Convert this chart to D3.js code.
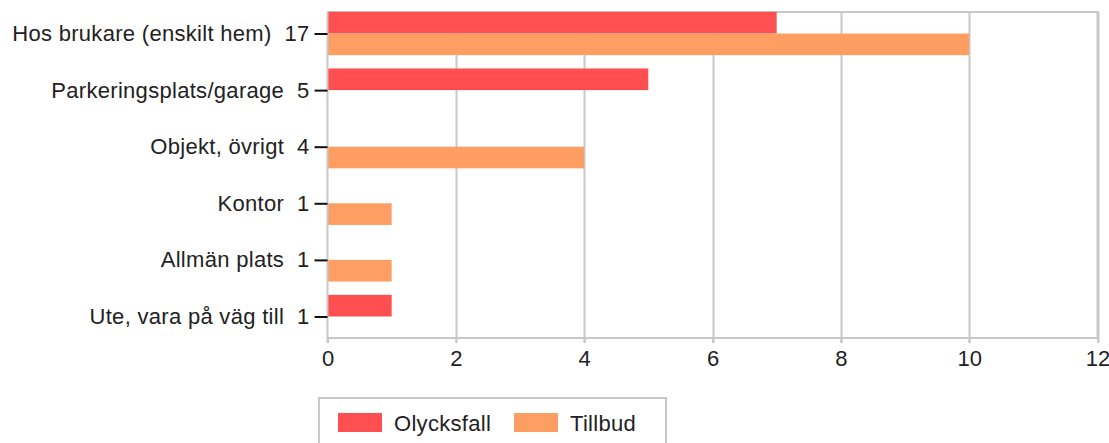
<!DOCTYPE html>
<html>
<head>
<meta charset="utf-8">
<script src="https://cdn.jsdelivr.net/npm/d3@7"></script>
<style>
    body { margin: 0; background: #fff; }
    svg { display: block; font-family: "Liberation Sans", Arial, sans-serif; }
</style>
</head>
<body>
<div id="graph"></div>
<script>
const categories = [
    "Hos brukare (enskilt hem)",
    "Parkeringsplats/garage",
    "Objekt, övrigt",
    "Kontor",
    "Allmän plats",
    "Ute, vara på väg till"
];
const seriesNames = ["Olycksfall", "Tillbud"];
const olycksfall = [7, 5, 0, 0, 0, 1];
const tillbud = [10, 0, 4, 1, 1, 0];
const xTicks = [0, 2, 4, 6, 8, 10, 12];
const colors = ["#ff4f50", "#ff9e62"];

const width = 1109;
const height = 443;
const plot = {left: 327.5, right: 1097.5, top: 12, bottom: 338};

const values = [olycksfall, tillbud];
const totals = categories.map((c, i) => d3.sum(values, v => v[i]));

const svg = d3.select("#graph")
    .append("svg")
    .attr("width", width)
    .attr("height", height);

const xScale = d3.scaleLinear()
    .domain([0, 12])
    .range([plot.left, plot.right]);

const yScale = d3.scalePoint()
    .domain(categories)
    .range([plot.top, plot.bottom])
    .padding(0.38);

const barSize = yScale.step() * 0.765;
const subScale = d3.scaleBand()
    .domain(seriesNames)
    .range([-barSize / 2, barSize / 2]);

// vertical grid + small ticks below the plot
svg.append("g")
    .selectAll("line")
    .data(xTicks.slice(1))
    .join("line")
    .attr("x1", d => Math.round(xScale(d)) + 0.5)
    .attr("x2", d => Math.round(xScale(d)) + 0.5)
    .attr("y1", plot.top)
    .attr("y2", plot.bottom + 5)
    .attr("stroke", "#c8c8c8")
    .attr("stroke-width", 2);

// frame: top, right, bottom
svg.append("path")
    .attr("d", `M${plot.left},${plot.top}H${plot.right}V${plot.bottom}H${plot.left}`)
    .attr("fill", "none")
    .attr("stroke", "#c8c8c8")
    .attr("stroke-width", 2);

// bars
const rows = svg.append("g")
    .selectAll("g")
    .data(categories)
    .join("g")
    .attr("transform", d => `translate(0, ${yScale(d)})`);

rows.selectAll("rect")
    .data((c, i) => seriesNames.map((s, k) => ({series: s, value: values[k][i], color: colors[k]})))
    .join("rect")
    .attr("x", xScale(0))
    .attr("y", d => subScale(d.series))
    .attr("width", d => xScale(d.value) - xScale(0))
    .attr("height", subScale.bandwidth())
    .attr("fill", d => d.color);

// x axis
const xAxis = svg.append("g")
    .attr("transform", `translate(0, ${plot.bottom})`)
    .call(d3.axisBottom(xScale).tickValues(xTicks).tickSize(5).tickPadding(7));
xAxis.select(".domain").remove();
xAxis.selectAll("line").attr("stroke", "#c8c8c8").attr("stroke-width", 2);
xAxis.selectAll("text")
    .attr("font-size", 22)
    .attr("font-family", "Liberation Sans, Arial, sans-serif")
    .attr("fill", "#222");

// y axis
const yAxis = svg.append("g")
    .attr("transform", `translate(${plot.left}, 0)`)
    .call(d3.axisLeft(yScale)
        .tickSize(13)
        .tickPadding(5)
        .tickFormat((d, i) => `${d}  ${totals[i]}`));
yAxis.select(".domain")
    .attr("d", `M0,${plot.top}V${plot.bottom + 5}`)
    .attr("stroke", "#c8c8c8")
    .attr("stroke-width", 2);
yAxis.selectAll(".tick line").attr("stroke", "#111").attr("stroke-width", 2);
yAxis.selectAll("text")
    .attr("font-size", 22)
    .attr("font-family", "Liberation Sans, Arial, sans-serif")
    .attr("letter-spacing", 0.3)
    .attr("fill", "#222")
    .style("white-space", "pre");

// legend
const legend = svg.append("g")
    .attr("transform", "translate(319, 398)");

legend.append("rect")
    .attr("width", 347)
    .attr("height", 70)
    .attr("fill", "#fff")
    .attr("stroke", "#c8c8c8")
    .attr("stroke-width", 2);

const legendItems = legend.selectAll("g")
    .data(seriesNames)
    .join("g")
    .attr("transform", (d, i) => `translate(${19 + i * 176}, 15)`);

legendItems.append("rect")
    .attr("width", 44)
    .attr("height", 19)
    .attr("fill", (d, i) => colors[i]);

legendItems.append("text")
    .attr("x", 56)
    .attr("y", 10)
    .attr("dy", "0.35em")
    .attr("font-size", 22)
    .attr("letter-spacing", 0.3)
    .attr("fill", "#222")
    .text(d => d);
</script>
</body>
</html>
